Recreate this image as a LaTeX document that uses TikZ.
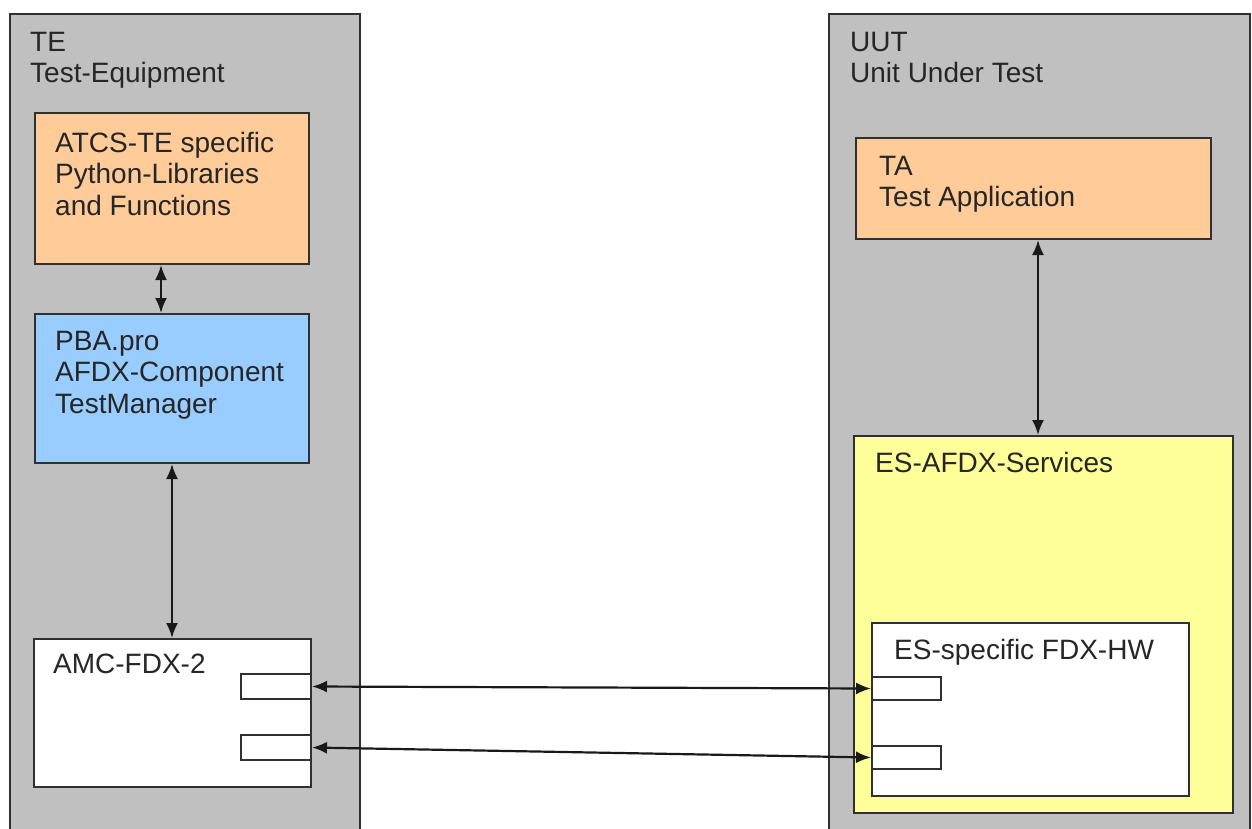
\documentclass[tikz,border=0pt]{standalone}
\usepackage{fontspec}
\setmainfont{Liberation Sans}
\usetikzlibrary{arrows.meta}
\definecolor{grayfill}{HTML}{C0C0C0}
\definecolor{orangefill}{HTML}{FFCC99}
\definecolor{bluefill}{HTML}{99CCFF}
\definecolor{yellowfill}{HTML}{FFFF99}
\definecolor{edgecol}{HTML}{303030}
\tikzset{
  box/.style={draw=edgecol, line width=2pt, rectangle, inner sep=0pt, anchor=north west},
  lbl/.style={anchor=north west, inner sep=0pt, align=left, text=black!85,
              font=\fontsize{28}{31.5}\selectfont},
  conn/.style={line width=2.2pt, draw=black!90,
               {Latex[length=15pt,width=12pt]}-{Latex[length=15pt,width=12pt]}}
}
\begin{document}
\begin{tikzpicture}[x=1pt,y=-1pt]
\useasboundingbox[fill=white] (0,0) rectangle (1252,829);
% outer containers
\node[box, fill=grayfill, minimum width=350pt, minimum height=830pt] (te) at (9,13) {};
\node[box, fill=grayfill, minimum width=421pt, minimum height=830pt] (uut) at (828,13) {};
\node[lbl] (telbl) at (30,32) {TE\\Test-Equipment};
\node[lbl] (uutlbl) at (850,32) {UUT\\Unit Under Test};
% TE side
\node[box, fill=orangefill, minimum width=274pt, minimum height=151pt] (atcs) at (34,112) {};
\node[lbl] (atcslbl) at (55,132) {ATCS-TE specific\\Python-Libraries\\and Functions};
\node[box, fill=bluefill, minimum width=274pt, minimum height=149pt] (pba) at (34,313) {};
\node[lbl] (pbalbl) at (55,331) {PBA.pro\\AFDX-Component\\TestManager};
\node[box, fill=white, minimum width=277pt, minimum height=148pt] (amc) at (33,638) {};
\node[lbl] (amclbl) at (53,654) {AMC-FDX-2};
\node[box, fill=white, minimum width=70pt, minimum height=25pt] (amcp1) at (240,673) {};
\node[box, fill=white, minimum width=70pt, minimum height=25pt] (amcp2) at (240,734) {};
% UUT side
\node[box, fill=orangefill, minimum width=355pt, minimum height=101pt] (ta) at (855,137) {};
\node[lbl] (talbl) at (879,156) {TA\\Test Application};
\node[box, fill=yellowfill, minimum width=379pt, minimum height=377pt] (es) at (853,435) {};
\node[lbl] (eslbl) at (875,452) {ES-AFDX-Services};
\node[box, fill=white, minimum width=317pt, minimum height=173pt] (hw) at (871,622) {};
\node[lbl] (hwlbl) at (894,639) {ES-specific FDX-HW};
\node[box, fill=white, minimum width=69pt, minimum height=23pt] (hwp1) at (871,676) {};
\node[box, fill=white, minimum width=69pt, minimum height=23pt] (hwp2) at (871,745) {};
% connectors
\draw[conn] ([xshift=-11pt]atcs.south) -- ([xshift=-11pt]pba.north);
\draw[conn] (pba.south) -- (pba.south |- amc.north);
\draw[conn] ([xshift=4.5pt]ta.south) -- ([xshift=4.5pt]ta.south |- es.north);
\draw[conn] (amcp1.east) -- (hwp1.west);
\draw[conn] (amcp2.east) -- (hwp2.west);
\end{tikzpicture}
\end{document}
